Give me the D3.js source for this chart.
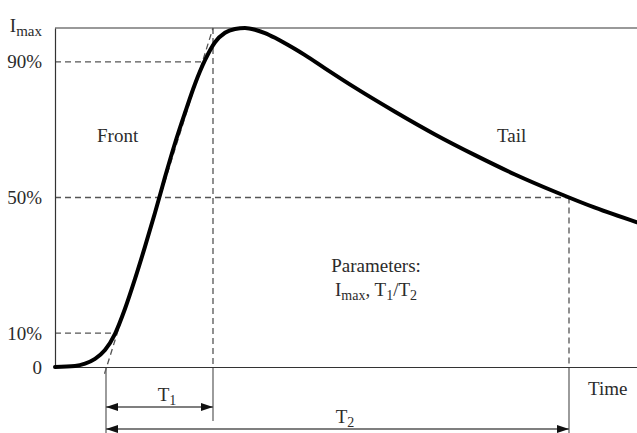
<!DOCTYPE html>
<html>
  <head>
    <meta charset="utf-8">
    <title>Impulse current waveform</title>
    <style>
      body { margin: 0; background: #fff; }
      svg text { font-family: "Liberation Serif", "Times New Roman", serif; fill: #2b2b2b; }
    </style>
    <script src="https://cdn.jsdelivr.net/npm/d3@7"></script>
  </head>
  <body>
    <div id="chart"></div>
    <script>
    // time (arbitrary units) and current in % of Imax
    var curveTime = [0, 2, 3, 4, 5, 6, 7, 8, 9, 10, 11, 12, 13, 14, 15, 16, 17, 18, 19, 20, 21, 22, 23, 24, 25, 27, 30, 34, 38, 42, 46, 50, 54, 58.2];
    var curveValue = [0, 0.3, 1.0, 2.4, 5.0, 9.8, 17.2, 26.0, 35.5, 45.5, 56.0, 66.0, 75.0, 83.5, 90.5, 95.8, 98.6, 99.7, 100, 99.5, 98.5, 97.1, 95.5, 93.8, 92.0, 88.1, 82.4, 75.3, 68.6, 62.5, 56.8, 51.7, 47.0, 42.7];

    var tickValues = [0, 10, 50, 90, 100];
    var tickLabels = ['0', '10%', '50%', '90%', 'Imax'];

    // dashed guide levels: percent and the time where the curve reaches it
    var levelValue = [10, 90, 50];
    var levelTime = [5.95, 14.7, 51.4];

    var t1Start = 5.1, t1End = 15.8, t2End = 51.4;
    var timeMax = 58.2;

    var w = 637, h = 433;
    var svg = d3.select('#chart').append('svg').attr('width', w).attr('height', h);

    var x = d3.scaleLinear().domain([0, timeMax]).range([55, 637]);
    var y = d3.scaleLinear().domain([0, 100]).range([367, 28]);

    var defs = svg.append('defs');
    ['start', 'end'].forEach(function(k) {
      defs.append('marker').attr('id', 'arr-' + k)
        .attr('viewBox', '0 0 12 8').attr('refX', 12).attr('refY', 4)
        .attr('markerWidth', 12).attr('markerHeight', 8)
        .attr('markerUnits', 'userSpaceOnUse')
        .attr('orient', k == 'end' ? 'auto' : 'auto-start-reverse')
        .append('path').attr('d', 'M0,0L12,4L0,8Z').attr('fill', '#111');
    });

    // Imax line
    svg.append('line')
      .attr('x1', x(0)).attr('x2', x(timeMax))
      .attr('y1', y(100)).attr('y2', y(100))
      .style('stroke', '#777').style('stroke-width', 1.5);

    // dashed guides
    var dash = '6,4';
    var guides = svg.append('g').style('stroke', '#555').style('stroke-width', 1.3).style('stroke-dasharray', dash).style('fill', 'none');
    levelValue.forEach(function(v, i) {
      guides.append('line')
        .attr('x1', x(0)).attr('x2', x(levelTime[i]))
        .attr('y1', y(v)).attr('y2', y(v));
    });
    // tangent through 10% and 90% points
    guides.append('line')
      .attr('x1', x(t1Start - 0.15)).attr('y1', y(-2))
      .attr('x2', x(t1End)).attr('y2', y(100));
    guides.append('line')
      .attr('x1', x(t1End)).attr('x2', x(t1End))
      .attr('y1', y(100)).attr('y2', y(0));
    guides.append('line')
      .attr('x1', x(t2End)).attr('x2', x(t2End))
      .attr('y1', y(50)).attr('y2', y(0));

    // extension lines under the axis
    var ext = svg.append('g').style('stroke', '#666').style('stroke-width', 1.3);
    ext.append('line').attr('x1', x(t1Start)).attr('x2', x(t1Start)).attr('y1', y(0)).attr('y2', 433);
    ext.append('line').attr('x1', x(t1End)).attr('x2', x(t1End)).attr('y1', y(0)).attr('y2', 421);
    ext.append('line').attr('x1', x(t2End)).attr('x2', x(t2End)).attr('y1', y(0)).attr('y2', 433);

    // T1 / T2 arrows
    var arrows = svg.append('g').style('stroke', '#555').style('stroke-width', 1.3);
    arrows.append('line').attr('x1', x(t1Start)).attr('x2', x(t1End)).attr('y1', 407).attr('y2', 407)
      .attr('marker-start', 'url(#arr-start)').attr('marker-end', 'url(#arr-end)');
    arrows.append('line').attr('x1', x(t1Start)).attr('x2', x(t2End)).attr('y1', 429).attr('y2', 429)
      .attr('marker-start', 'url(#arr-start)').attr('marker-end', 'url(#arr-end)');

    // axes
    var yAxis = d3.axisLeft(y).tickValues(tickValues).tickSize(0).tickSizeOuter(0).tickPadding(13)
      .tickFormat(function(d, i) { return tickLabels[i]; });
    var gy = svg.append('g').attr('transform', 'translate(' + x(0) + ',0)').call(yAxis);
    gy.select('.domain').style('stroke', '#333').style('stroke-width', 1.2);
    gy.selectAll('text').style('font-size', '19px').attr('font-family', null).attr('dy', '0.32em');
    gy.selectAll('.tick text').filter(function(d) { return d == 100; })
      .text(null).attr('dy', '0.2em')
      .call(function(t) {
        t.append('tspan').text('I');
        t.append('tspan').text('max').attr('dy', 4).style('font-size', '15px');
      });

    var xAxis = d3.axisBottom(x).tickValues([]).tickSizeOuter(0);
    var gx = svg.append('g').attr('transform', 'translate(0,' + y(0) + ')').call(xAxis);
    gx.select('.domain').style('stroke', '#333').style('stroke-width', 1.2);

    // waveform
    var pts = curveTime.map(function(t, i) { return [t, curveValue[i]]; });
    var line = d3.line().x(function(d) { return x(d[0]); }).y(function(d) { return y(d[1]); })
      .curve(d3.curveMonotoneX);
    svg.append('path').datum(pts).attr('d', line)
      .style('fill', 'none').style('stroke', '#000').style('stroke-width', 4)
      .style('stroke-linejoin', 'round').style('stroke-linecap', 'round');

    // labels
    function label(txt, px, py, anchor) {
      return svg.append('text').attr('x', px).attr('y', py)
        .attr('text-anchor', anchor || 'start').style('font-size', '19px').text(txt);
    }
    function sub(t, main, s, small) {
      t.append('tspan').text(main);
      t.append('tspan').text(s).attr('dy', 4).style('font-size', small || '14px');
      return t;
    }
    label('Front', 97, 142);
    label('Tail', 497, 142);
    label('Time', 588, 395);
    label('Parameters:', 376, 272, 'middle');

    var p2 = svg.append('text').attr('x', 376).attr('y', 296).attr('text-anchor', 'middle').style('font-size', '19px');
    p2.append('tspan').text('I');
    p2.append('tspan').text('max').attr('dy', 4).style('font-size', '14px');
    p2.append('tspan').text(', T').attr('dy', -4);
    p2.append('tspan').text('1').attr('dy', 4).style('font-size', '14px');
    p2.append('tspan').text('/T').attr('dy', -4);
    p2.append('tspan').text('2').attr('dy', 4).style('font-size', '14px');

    sub(svg.append('text').attr('x', 167).attr('y', 401).attr('text-anchor', 'middle').style('font-size', '19px'), 'T', '1');
    sub(svg.append('text').attr('x', 345).attr('y', 423).attr('text-anchor', 'middle').style('font-size', '19px'), 'T', '2');
    </script>
  </body>
</html>
